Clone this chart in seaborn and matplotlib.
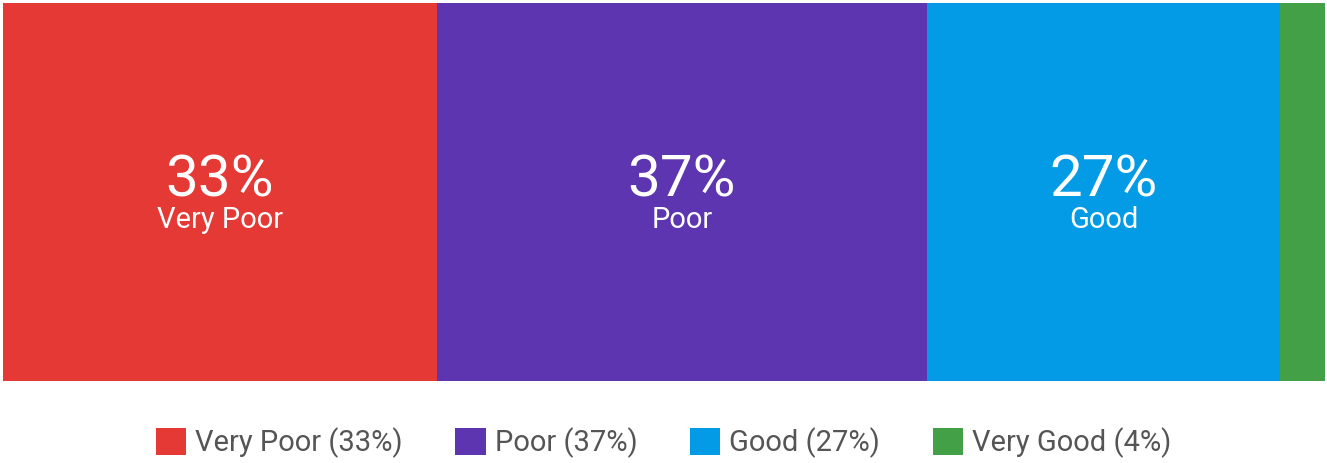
import matplotlib
matplotlib.use("Agg")
import matplotlib.pyplot as plt
from matplotlib.patches import Patch
import seaborn as sns
import pandas as pd
import numpy as np

categories = ["Very Poor", "Poor", "Good", "Very Good"]
shares = [32.8, 37.1, 26.7, 3.4]
labels_pct = [33, 37, 27, 4]
colors = ["#E53935", "#5E35B1", "#039BE5", "#43A047"]

sns.set_theme(style="white")
plt.rcParams["font.family"] = ["Roboto", "DejaVu Sans"]

W, H = 1327, 463
fig = plt.figure(figsize=(W / 100, H / 100), dpi=100)
ax = fig.add_axes([3 / W, 1 - 381 / H, (1325 - 3) / W, (381 - 3) / H])

cum = np.cumsum(shares)
starts = cum - np.array(shares)

# draw stacked bars from the longest cumulative to shortest
for i in reversed(range(len(categories))):
    sns.barplot(x=[cum[i]], y=["all"], color=colors[i], orient="h", width=1.0,
                ax=ax, saturation=1, linewidth=0)

ax.set_xlim(0, cum[-1])
ax.set_ylim(0.5, -0.5)
ax.axis("off")

for i, c in enumerate(categories):
    if shares[i] < 10:
        continue
    xc = starts[i] + shares[i] / 2
    ax.text(xc, -0.03, f"{labels_pct[i]}%", color="white", fontsize=42,
            ha="center", va="center")
    ax.text(xc, 0.075, c, color="white", fontsize=21, ha="center", va="center")

handles = [Patch(facecolor=colors[i], edgecolor="none",
                 label=f"{categories[i]} ({labels_pct[i]}%)") for i in range(len(categories))]
fig.legend(handles=handles, loc="center", bbox_to_anchor=(0.5, 1 - 443 / H), ncol=4,
           frameon=False, fontsize=21, handlelength=1.05, handleheight=1.05,
           handletextpad=0.3, columnspacing=1.8, labelcolor="#555555")

fig.savefig("out.png", dpi=100)
